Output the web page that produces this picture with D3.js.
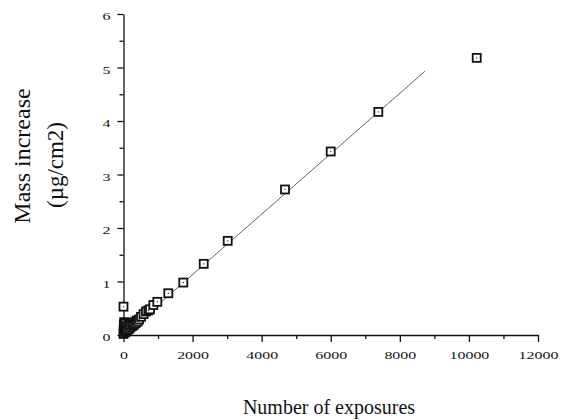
<!DOCTYPE html>
<html>
<head>
<meta charset="utf-8">
<script src="https://cdn.jsdelivr.net/npm/d3@7"></script>
<style>
  html, body { margin: 0; padding: 0; background: #fff; }
  svg { display: block; }
  text { font-family: "Liberation Serif", "Times New Roman", serif; fill: #111; }
</style>
</head>
<body>
<svg id="chart" width="562" height="420"></svg>
<script>
// ---- data ----
const exposures = [0, 5, 10, 15, 20, 30, 40, 50, 60, 70, 80, 100, 110, 120, 150, 160, 180, 200, 210, 250, 260, 300, 320, 350, 380, 411, 450, 507,
                   580, 651, 720, 767, 863, 979, 1297, 1731, 2322, 3017, 4676, 5999, 7377, 10226, 0];
const massIncrease = [0.02, 0.08, 0.20, 0.12, 0.24, 0.10, 0.17, 0.05, 0.22, 0.07, 0.15, 0.09, 0.18, 0.14, 0.11, 0.19, 0.21, 0.14, 0.20, 0.17, 0.23, 0.19, 0.24, 0.22, 0.27, 0.25, 0.29, 0.34,
                   0.39, 0.44, 0.46, 0.48, 0.56, 0.62, 0.78, 0.98, 1.33, 1.76, 2.72, 3.43, 4.17, 5.18, 0.53];
const fitX = [0, 8729];
const fitY = [0.0, 4.93];
const xTicks = [0, 2000, 4000, 6000, 8000, 10000, 12000];
const xMinor = [1000, 3000, 5000, 7000, 9000, 11000];
const yTicks = [0, 1, 2, 3, 4, 5, 6];
const yMinor = [0.5, 1.5, 2.5, 3.5, 4.5, 5.5];
const xTitle = "Number of exposures";
const yTitle1 = "Mass increase";
const yTitle2 = "(µg/cm2)";

// ---- scales ----
const svg = d3.select("#chart");
svg.append("rect").attr("width", 562).attr("height", 420).attr("fill", "#fff");
const x = d3.scaleLinear().domain([0, 12000]).range([123.5, 538]);
const y = d3.scaleLinear().domain([0, 6]).range([335, 14]);

// ---- axes ----
const gx = svg.append("g").attr("transform", `translate(0,${y(0)})`)
  .call(d3.axisBottom(x).tickValues(xTicks).tickSize(7).tickSizeOuter(0).tickFormat(d3.format("d")));
svg.append("g").attr("transform", `translate(0,${y(0)})`)
  .call(d3.axisBottom(x).tickValues(xMinor).tickSize(4).tickFormat(""))
  .call(g => g.select(".domain").remove());
const gy = svg.append("g").attr("transform", `translate(${x(0)},0)`)
  .call(d3.axisLeft(y).tickValues(yTicks).tickSize(6).tickSizeOuter(0).tickFormat(d3.format("d")));
svg.append("g").attr("transform", `translate(${x(0)},0)`)
  .call(d3.axisLeft(y).tickValues(yMinor).tickSize(4).tickFormat(""))
  .call(g => g.select(".domain").remove());

svg.selectAll(".domain, .tick line").attr("stroke", "#111").attr("stroke-width", 1.3);

gx.selectAll(".tick text")
  .attr("font-size", 11).attr("y", 16).attr("dy", "0.71em")
  .attr("transform", "scale(1.45,1)")
  .style("font-family", "Liberation Serif").attr("fill", "#111");
gy.selectAll(".tick text")
  .attr("font-size", 11).attr("x", -9).attr("dy", "0.5em")
  .attr("transform", "scale(1.45,1)")
  .style("font-family", "Liberation Serif").attr("fill", "#111");

// ---- fit line ----
const fit = fitX.map((d, i) => [d, fitY[i]]);
svg.append("path")
  .datum(fit)
  .attr("d", d3.line().x(d => x(d[0])).y(d => y(d[1])))
  .attr("fill", "none").attr("stroke", "#555").attr("stroke-width", 0.9);

// ---- points ----
const pts = exposures.map((d, i) => ({ e: d, m: massIncrease[i] }));
const s = 8;
const gp = svg.append("g");
gp.selectAll("rect.pt").data(pts).join("rect").attr("class", "pt")
  .attr("x", d => x(d.e) - s / 2).attr("y", d => y(d.m) - s / 2)
  .attr("width", s).attr("height", s)
  .attr("fill", "#fff").attr("stroke", "#111").attr("stroke-width", 1.8);
gp.selectAll("rect.dot").data(pts).join("rect").attr("class", "dot")
  .attr("x", d => x(d.e) - 0.6).attr("y", d => y(d.m) - 0.6)
  .attr("width", 1.2).attr("height", 1.2).attr("fill", "#333");

// ---- titles ----
svg.append("text").attr("x", 329).attr("y", 414).attr("text-anchor", "middle")
  .attr("font-size", 20).text(xTitle);
svg.append("text").attr("transform", "translate(30,156) rotate(-90)")
  .attr("text-anchor", "middle").attr("font-size", 24).text(yTitle1);
svg.append("text").attr("transform", "translate(63,165) rotate(-90)")
  .attr("text-anchor", "middle").attr("font-size", 23).text(yTitle2);
</script>
</body>
</html>
